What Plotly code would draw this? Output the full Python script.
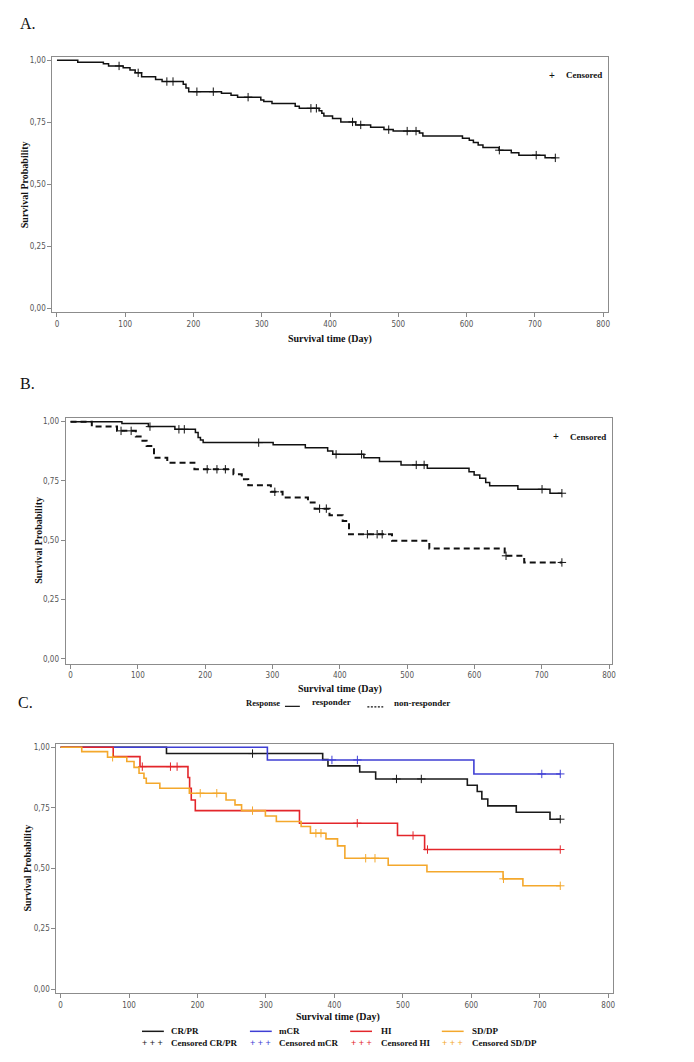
import plotly.graph_objects as go

W, H = 694, 1062          # browser window
OX, OY = 8, 8             # default page body margin
FW, FH = W - OX, H - OY   # figure size so that page coords line up

# ---------------- data ----------------
# Panel A: all patients
a_event_days = [30.5, 68, 75.6, 97, 107, 114.6, 124, 144.5, 154, 185, 189, 193,
                241, 255, 264.6, 298.6, 303, 315, 349, 355, 384, 388, 391, 403.7,
                415.8, 437.6, 459.5, 479, 492.5, 531, 536, 594, 604, 610, 617, 624,
                647.6, 665.5, 676.6, 715]
a_event_surv = [0.992, 0.986, 0.977, 0.970, 0.961, 0.949, 0.933, 0.922, 0.914, 0.903, 0.888, 0.873,
                0.867, 0.859, 0.851, 0.839, 0.833, 0.825, 0.814, 0.806, 0.796, 0.786, 0.775, 0.765,
                0.751, 0.739, 0.730, 0.720, 0.714, 0.706, 0.694, 0.685, 0.677, 0.668, 0.658, 0.648,
                0.637, 0.627, 0.617, 0.606]
a_censor_days = [91, 119, 161, 170, 205, 229, 280, 372, 380, 433, 445, 486, 513, 526, 648, 702, 730]

# Panel B: responder / non-responder
b_resp_days = [76.3, 115.6, 155, 185.5, 189.5, 193, 197, 301, 348.8, 382, 389.6, 435.8, 459,
               491, 530, 592, 599.6, 608, 616.8, 622.7, 664.6, 712.3]
b_resp_surv = [0.9916, 0.979, 0.9676, 0.954, 0.933, 0.922, 0.9115, 0.902, 0.890, 0.8765, 0.862,
               0.848, 0.8315, 0.8175, 0.803, 0.789, 0.775, 0.761, 0.743, 0.729, 0.7147, 0.698]
b_resp_censor = [118, 161, 169, 279.5, 394.5, 432.4, 513.6, 525.3, 700.5, 730]

b_non_days = [31.6, 69, 97, 106.8, 113, 124, 143.7, 184, 242, 254.4, 264, 297.6, 315, 352.7,
              362.6, 384.7, 404.3, 413.7, 477.6, 533, 645, 674]
b_non_surv = [0.979, 0.961, 0.937, 0.919, 0.8976, 0.848, 0.827, 0.799, 0.778, 0.757, 0.7316,
              0.704, 0.680, 0.659, 0.633, 0.605, 0.581, 0.525, 0.497, 0.465, 0.434, 0.406]
b_non_censor = [75, 90, 203, 217.5, 230, 303.5, 370, 380, 441, 455.5, 463, 647, 730]

# Panel C: response categories
c_crpr_days = [154.7, 382.9, 390.6, 437, 460.3, 594.2, 608.7, 615.4, 624.1, 665.7, 715]
c_crpr_surv = [0.974, 0.949, 0.923, 0.898, 0.869, 0.843, 0.817, 0.786, 0.7576, 0.731, 0.7025]
c_crpr_censor = [280.4, 490.7, 527, 730]

c_mcr_days = [302.1, 603.8]
c_mcr_surv = [0.9477, 0.8898]
c_mcr_censor = [396.4, 433.6, 703, 730]

c_hi_days = [76.9, 116, 186.1, 188.5, 190.9, 196.8, 349, 492.2, 531.8]
c_hi_surv = [0.9614, 0.920, 0.875, 0.8306, 0.782, 0.738, 0.686, 0.635, 0.577]
c_hi_censor = [119.4, 160.5, 170.2, 433.4, 514.9, 536, 730]

c_sd_days = [30.9, 68.6, 96.7, 107.3, 114.6, 121.8, 125.2, 145, 188.1, 241.7, 254.8, 264.4,
             299.2, 315.2, 351.4, 365, 387.7, 404.6, 415.3, 478.6, 535.2, 646.4, 675.4]
c_sd_surv = [0.982, 0.9587, 0.941, 0.917, 0.8926, 0.872, 0.851, 0.8306, 0.810, 0.782, 0.7617,
             0.738, 0.716, 0.693, 0.672, 0.6446, 0.621, 0.592, 0.541, 0.512, 0.4848, 0.4558, 0.427]
c_sd_censor = [76, 204, 228.2, 280.4, 373, 380.4, 445.7, 459.3, 647, 730]

END_DAY = 730
x_ticks = [0, 100, 200, 300, 400, 500, 600, 700, 800]
y_ticks = [0, 0.25, 0.5, 0.75, 1.0]
y_tick_labels = ["0,00", "0,25", "0,50", "0,75", "1,00"]

c_names = ["CR/PR", "mCR", "HI", "SD/DP"]
c_colors = ["#1a1a1a", "#3f3fd4", "#e3262b", "#f4a82c"]

# ---------------- helpers ----------------
TICK_FONT = dict(family="Liberation Sans Narrow, Arial Narrow, DejaVu Sans Condensed, Liberation Sans, sans-serif",
                 size=8, color="#555555")
SERIF = "Liberation Serif, Times New Roman, serif"


def step_value(days, surv, t):
    v = 1.0
    for d, s in zip(days, surv):
        if d <= t:
            v = s
    return v


def km_traces(days, surv, cens, color, xa, ya, width=1.5, dash="solid"):
    x = [0] + list(days) + [END_DAY]
    y = [1.0] + list(surv) + [surv[-1]]
    line = go.Scatter(x=x, y=y, mode="lines", xaxis=xa, yaxis=ya, showlegend=False,
                      hoverinfo="skip", line=dict(shape="hv", color=color, width=width, dash=dash))
    cy = [step_value(days, surv, t) for t in cens]
    marks = go.Scatter(x=cens, y=cy, mode="markers", xaxis=xa, yaxis=ya, showlegend=False,
                       hoverinfo="skip",
                       marker=dict(symbol="cross-thin", size=6, color=color,
                                   line=dict(width=1, color=color)))
    return [line, marks]


def px(x):
    return (x - OX) / FW


def py(y):
    return 1 - (y - OY) / FH


def xd(l, r):
    return [px(l), px(r)]


def yd(top, bottom):
    return [py(bottom), py(top)]


fig = go.Figure()

for t in km_traces(a_event_days, a_event_surv, a_censor_days, "#111111", "x", "y"):
    fig.add_trace(t)
for t in km_traces(b_resp_days, b_resp_surv, b_resp_censor, "#111111", "x2", "y2"):
    fig.add_trace(t)
for t in km_traces(b_non_days, b_non_surv, b_non_censor, "#111111", "x2", "y2", width=2, dash="6px,4px"):
    fig.add_trace(t)
c_data = [(c_crpr_days, c_crpr_surv, c_crpr_censor), (c_mcr_days, c_mcr_surv, c_mcr_censor),
          (c_hi_days, c_hi_surv, c_hi_censor), (c_sd_days, c_sd_surv, c_sd_censor)]
for (d, s, c), col in zip(c_data, c_colors):
    for t in km_traces(d, s, c, col, "x3", "y3", width=1.6):
        fig.add_trace(t)


def xaxis(domain, rng, anchor):
    return dict(domain=domain, range=rng, anchor=anchor, tickvals=x_ticks,
                ticktext=[str(v) for v in x_ticks], ticks="outside", ticklen=4,
                tickcolor="#888888", showline=True, linecolor="#8c8c8c", linewidth=1,
                mirror=True, showgrid=False, zeroline=False, tickfont=TICK_FONT)


def yaxis(domain, rng, anchor):
    return dict(domain=domain, range=rng, anchor=anchor, tickvals=y_ticks,
                ticktext=y_tick_labels, ticks="outside", ticklen=4,
                tickcolor="#888888", showline=True, linecolor="#8c8c8c", linewidth=1,
                mirror=True, showgrid=False, zeroline=False, tickfont=TICK_FONT)


fig.update_layout(
    width=FW, height=FH, margin=dict(l=0, r=0, t=0, b=0),
    paper_bgcolor="white", plot_bgcolor="white", showlegend=False,
    xaxis=xaxis(xd(52.7, 612.7), [-6.7, 807.6], "y"),
    yaxis=yaxis(yd(56.3, 311.7), [-0.0177, 1.012], "x"),
    xaxis2=xaxis(xd(66, 616), [-7.4, 803.8], "y2"),
    yaxis2=yaxis(yd(417.7, 663.3), [-0.021, 1.014], "x2"),
    xaxis3=xaxis(xd(56.7, 617.7), [-6.2, 807.4], "y3"),
    yaxis3=yaxis(yd(743.7, 993.3), [-0.018, 1.0136], "x3"),
)

ann = []
shapes = []


def text(x, y, s, size=10, bold=True, anchor="center", color="#111111", angle=0, family=SERIF):
    ann.append(dict(xref="paper", yref="paper", x=px(x), y=py(y), text=s, showarrow=False,
                    xanchor=anchor, yanchor="middle", textangle=angle, borderpad=0,
                    font=dict(family=family, size=size, color=color,
                              weight="bold" if bold else "normal")))


def hline(x0, x1, y, color, width=1.5, dash="solid"):
    shapes.append(dict(type="line", xref="paper", yref="paper", x0=px(x0), x1=px(x1),
                       y0=py(y), y1=py(y), line=dict(color=color, width=width, dash=dash)))


# panel labels
text(19, 23, "A.", size=16, bold=False, anchor="left")
text(19, 383, "B.", size=16, bold=False, anchor="left")
text(17, 702, "C.", size=16, bold=False, anchor="left")

# axis titles
text(24.5, 184, "Survival Probability", angle=-90)
text(38.5, 540, "Survival Probability", angle=-90)
text(27.5, 868, "Survival Probability", angle=-90)
text(332, 338, "Survival time (Day)")
text(342, 689, "Survival time (Day)")
text(340, 1016.5, "Survival time (Day)")

# censored keys A / B
text(556, 74.5, "+", size=10, bold=False, family="Liberation Sans, sans-serif")
text(569, 74.5, "Censored", size=9, anchor="left")
text(560, 436, "+", size=10, bold=False, family="Liberation Sans, sans-serif")
text(573, 436, "Censored", size=9, anchor="left")

# legend B
text(247, 702.5, "Response", size=8.5, anchor="left")
hline(287, 302, 706, "#111111", 1.2)
text(313, 701.5, "responder", size=9, anchor="left")
hline(370, 386, 706.5, "#111111", 1.2, dash="2px,1.5px")
text(396, 703, "non-responder", size=9, anchor="left")

# legend C
leg_line_x = [143, 251.7, 352.7, 445]
leg_text_x = [171.5, 280, 382.3, 474.3]
for name, col, lx, tx in zip(c_names, c_colors, leg_line_x, leg_text_x):
    hline(lx, lx + 22, 1031.3, col, 1.5)
    text(tx, 1031.3, name, size=9, anchor="left")
    text(lx + 11, 1043, "+ + +", size=9, bold=False, color=col, family="Liberation Sans, sans-serif")
    text(tx, 1043, "Censored " + name, size=9, anchor="left")

fig.update_layout(annotations=ann, shapes=shapes)
fig.write_html("out.html")
